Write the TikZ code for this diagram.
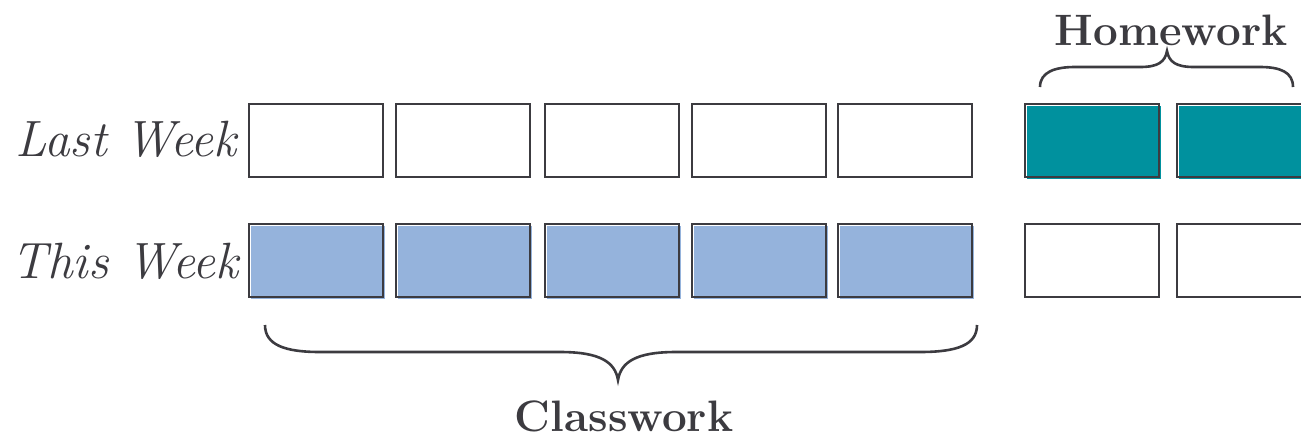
\documentclass[tikz,border=0pt]{standalone}
\usepackage{fontspec}
\definecolor{edge}{HTML}{3C3B40}
\definecolor{teal}{HTML}{00919E}
\definecolor{lblue}{HTML}{95B3DC}
\begin{document}
\begin{tikzpicture}[x=1pt,y=-1pt,
  cell/.style={draw=edge, line width=2.6pt, minimum width=134pt, minimum height=73pt, inner sep=0pt},
  tealcell/.style={cell, preaction={fill=teal, transform canvas={shift={(2pt,-2pt)}}}},
  bluecell/.style={cell, preaction={fill=lblue, transform canvas={shift={(2pt,-2pt)}}}},
  rowlabel/.style={text=edge, anchor=base east, inner sep=0pt, font=\fontsize{51}{60}\itshape\selectfont},
  grouplabel/.style={text=edge, anchor=base, inner sep=0pt, font=\fontsize{44}{50}\bfseries\selectfont},
  bracep/.style={draw=edge, line width=2.6pt}]
\useasboundingbox (0,0) rectangle (1301,440);
% row 1
\node[cell] (a1) at (316,140.5) {};
\node[cell] (a2) at (463,140.5) {};
\node[cell] (a3) at (612,140.5) {};
\node[cell] (a4) at (759,140.5) {};
\node[cell] (a5) at (905,140.5) {};
\node[tealcell] (a6) at (1092,140.5) {};
\node[tealcell] (a7) at (1244,140.5) {};
% row 2
\node[bluecell] (b1) at (316,260.5) {};
\node[bluecell] (b2) at (463,260.5) {};
\node[bluecell] (b3) at (612,260.5) {};
\node[bluecell] (b4) at (759,260.5) {};
\node[bluecell] (b5) at (905,260.5) {};
\node[cell] (b6) at (1092,260.5) {};
\node[cell] (b7) at (1244,260.5) {};
% labels
\node[rowlabel] (lw) at (237,156) {Last Week};
\node[rowlabel] (tw) at (239,278) {This Week};
\node[grouplabel] (hw) at (1171,45) {Homework};
\node[grouplabel] (cw) at (624,431) {Classwork};
% braces
\draw[bracep] (265,325) .. controls (265,345) and (285,352) .. (320,352) -- (560,352)
  .. controls (600,352) and (615,362) .. (618,380)
  .. controls (621,362) and (636,352) .. (676,352) -- (920,352)
  .. controls (957,352) and (977,345) .. (977,325);
\draw[bracep] (1040,87) .. controls (1040,72) and (1055,67) .. (1075,67) -- (1140,67)
  .. controls (1158,67) and (1165,62) .. (1167,51)
  .. controls (1169,62) and (1176,67) .. (1194,67) -- (1260,67)
  .. controls (1280,67) and (1293,72) .. (1293,87);
\end{tikzpicture}
\end{document}
